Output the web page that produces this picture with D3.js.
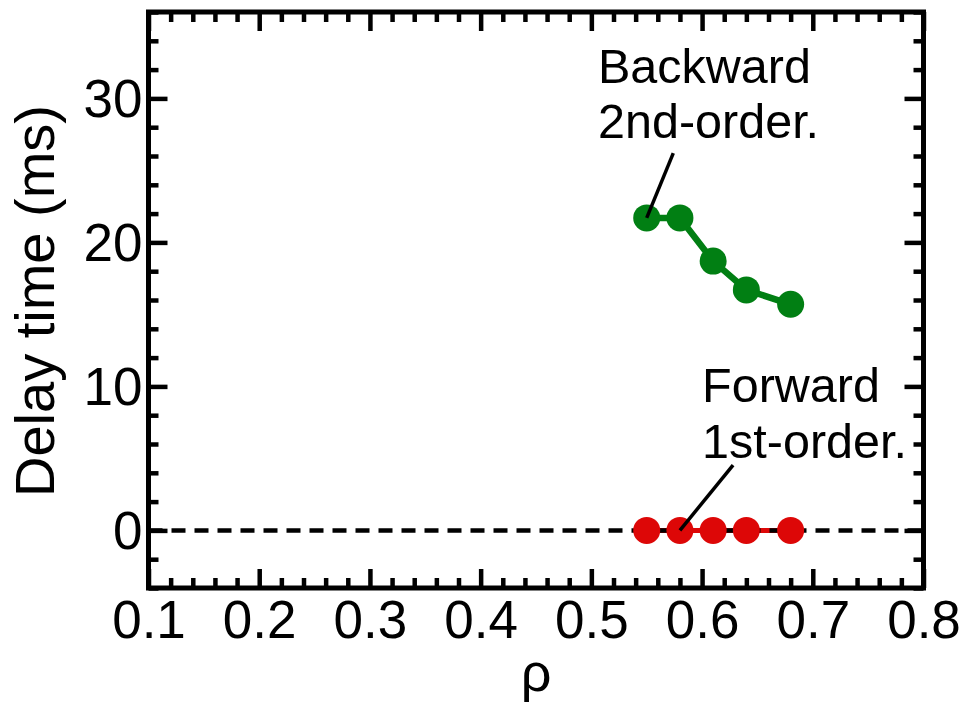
<!DOCTYPE html>
<html>
<head>
<meta charset="utf-8">
<script src="https://cdn.jsdelivr.net/npm/d3@7"></script>
<style>
  html, body { margin: 0; padding: 0; background: #fff; }
  svg { display: block; font-family: "Liberation Sans", Arial, sans-serif; }
</style>
</head>
<body>
<svg id="chart" width="963" height="704"></svg>
<script>
// Density values and measured delay times
const rho = [0.55, 0.58, 0.61, 0.64, 0.68];
const forwardDelay = [0, 0, 0, 0, 0];
const backwardDelay = [21.7, 21.7, 18.7, 16.7, 15.7];

// Axis tick values
const xMajorTicks = [0.1, 0.2, 0.3, 0.4, 0.5, 0.6, 0.7, 0.8];
const xMinorTicks = d3.range(12, 80, 2).filter(v => v % 10 !== 0).map(v => v / 100);
const yMajorTicks = [0, 10, 20, 30];
const yMinorTicks = d3.range(-4, 37, 2).filter(v => v % 10 !== 0);

const svg = d3.select("#chart");
const plotLeft = 148.5, plotRight = 923.5, plotTop = 12, plotBottom = 588;

const x = d3.scaleLinear().domain([0.1, 0.8]).range([plotLeft, plotRight]);
const y = d3.scaleLinear().domain([-4, 36]).range([plotBottom, plotTop]);

const green = "#017f13";
const red = "#dd0707";
const tickFont = 53;

function styleAxis(g) {
  g.select(".domain").remove();
  g.selectAll(".tick line").attr("stroke", "#000").attr("stroke-width", 4.5);
}

// Ticks on all four sides, pointing inward
svg.append("g").attr("transform", `translate(0,${plotBottom})`)
  .call(d3.axisBottom(x).tickValues(xMinorTicks).tickSize(-10).tickFormat(""))
  .call(styleAxis);
svg.append("g").attr("transform", `translate(0,${plotTop})`)
  .call(d3.axisTop(x).tickValues(xMinorTicks).tickSize(-10).tickFormat(""))
  .call(styleAxis);
svg.append("g").attr("transform", `translate(0,${plotTop})`)
  .call(d3.axisTop(x).tickValues(xMajorTicks).tickSize(-19).tickFormat(""))
  .call(styleAxis);
const xAxis = svg.append("g").attr("transform", `translate(0,${plotBottom})`)
  .call(d3.axisBottom(x).tickValues(xMajorTicks).tickSize(-19).tickFormat(d3.format(".1f")))
  .call(styleAxis);
xAxis.selectAll(".tick text")
  .attr("y", 50).attr("dy", null)
  .attr("font-size", tickFont).attr("fill", "#000")
  .attr("font-family", "Liberation Sans, Arial, sans-serif");

svg.append("g").attr("transform", `translate(${plotLeft},0)`)
  .call(d3.axisLeft(y).tickValues(yMinorTicks).tickSize(-10).tickFormat(""))
  .call(styleAxis);
svg.append("g").attr("transform", `translate(${plotRight},0)`)
  .call(d3.axisRight(y).tickValues(yMinorTicks).tickSize(-10).tickFormat(""))
  .call(styleAxis);
svg.append("g").attr("transform", `translate(${plotRight},0)`)
  .call(d3.axisRight(y).tickValues(yMajorTicks).tickSize(-19).tickFormat(""))
  .call(styleAxis);
const yAxis = svg.append("g").attr("transform", `translate(${plotLeft},0)`)
  .call(d3.axisLeft(y).tickValues(yMajorTicks).tickSize(-19))
  .call(styleAxis);
yAxis.selectAll(".tick text")
  .attr("x", -6).attr("dy", 18)
  .attr("font-size", tickFont).attr("fill", "#000")
  .attr("font-family", "Liberation Sans, Arial, sans-serif");

// Series lines, zero reference and markers
const line = d3.line().x(d => x(d[0])).y(d => y(d[1]));
const fwd = rho.map((r, i) => [r, forwardDelay[i]]);
const bwd = rho.map((r, i) => [r, backwardDelay[i]]);

svg.append("path").datum(fwd).attr("d", line)
  .attr("fill", "none").attr("stroke", red).attr("stroke-width", 5);

svg.append("path").datum([[0.1, 0], [0.8, 0]]).attr("d", line)
  .attr("fill", "none").attr("stroke", "#000").attr("stroke-width", 4.5)
  .attr("stroke-dasharray", "14,9");

svg.append("path").datum(bwd).attr("d", line)
  .attr("fill", "none").attr("stroke", green).attr("stroke-width", 6.5);

svg.selectAll("circle.fwd").data(fwd).join("circle").attr("class", "fwd")
  .attr("cx", d => x(d[0])).attr("cy", d => y(d[1])).attr("r", 13.5).attr("fill", red);
svg.selectAll("circle.bwd").data(bwd).join("circle").attr("class", "bwd")
  .attr("cx", d => x(d[0])).attr("cy", d => y(d[1])).attr("r", 13.5).attr("fill", green);

// Annotation leaders and labels
svg.append("path").datum([[0.574, 26.2], [rho[0], backwardDelay[0]]]).attr("d", line)
  .attr("stroke", "#000").attr("stroke-width", 3.5);
svg.append("path").datum([[0.628, 4.54], [rho[1], forwardDelay[1]]]).attr("d", line)
  .attr("stroke", "#000").attr("stroke-width", 3.5);

const notes = [
  { text: "Backward", x: 0.506, y: 31.07 },
  { text: "2nd-order.", x: 0.506, y: 27.25 },
  { text: "Forward", x: 0.6, y: 8.92 },
  { text: "1st-order.", x: 0.6, y: 5.03 }
];
svg.selectAll("text.note").data(notes).join("text").attr("class", "note")
  .attr("x", d => x(d.x)).attr("y", d => y(d.y))
  .attr("font-size", 48.5).attr("fill", "#000").text(d => d.text);

// Frame
svg.append("rect").attr("x", plotLeft).attr("y", plotTop)
  .attr("width", plotRight - plotLeft).attr("height", plotBottom - plotTop)
  .attr("fill", "none").attr("stroke", "#000").attr("stroke-width", 5);

// Axis titles
svg.append("text").attr("x", (plotLeft + plotRight) / 2).attr("y", 691)
  .attr("text-anchor", "middle").attr("font-size", 54).text("ρ");
svg.append("text").attr("transform", "translate(54,301) rotate(-90)")
  .attr("text-anchor", "middle").attr("font-size", 56).text("Delay time (ms)");
</script>
</body>
</html>
